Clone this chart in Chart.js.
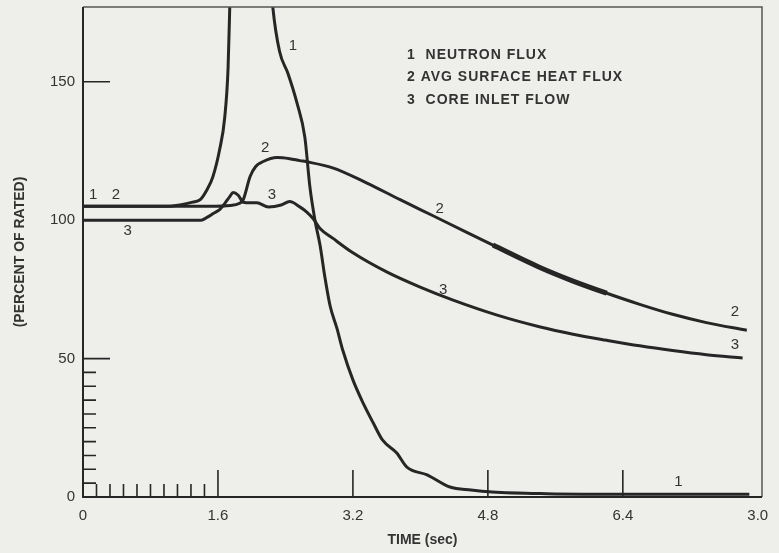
<!DOCTYPE html>
<html>
<head>
<meta charset="utf-8">
<script src="https://cdn.jsdelivr.net/npm/chart.js@4/dist/chart.umd.min.js"></script>
<style>
  html, body { margin: 0; padding: 0; background: #eeeeeb; }
  #wrap { width: 779px; height: 553px; }
</style>
</head>
<body>
<div id="wrap"><canvas id="chart" width="779" height="553"></canvas></div>
<script>
// Tick values and labels
const xTicks = [0, 1.6, 3.2, 4.8, 6.4, 8.0];
const xTickLabels = ["0", "1.6", "3.2", "4.8", "6.4", "3.0"];
const yTicks = [0, 50, 100, 150];
const yTickLabels = ["0", "50", "100", "150"];
const xMinorTicks = [0.16, 0.32, 0.48, 0.64, 0.8, 0.96, 1.12, 1.28, 1.44];
const xMajorTicks = [1.6, 3.2, 4.8, 6.4];
const yMinorTicks = [5, 10, 15, 20, 25, 30, 35, 40, 45];
const yMajorTicks = [50, 150];

// 1 Neutron flux
const fluxTime = [0, 0.5, 1.0, 1.15, 1.3, 1.39, 1.47, 1.54, 1.62, 1.68, 1.72, 1.74, 1.78, 1.9, 2.05, 2.18, 2.25, 2.33, 2.43, 2.54, 2.63, 2.69, 2.75, 2.81, 2.87, 2.93, 3.01, 3.08, 3.2, 3.32, 3.44, 3.55, 3.72, 3.84, 4.08, 4.35, 4.6, 4.85, 5.5, 6.5, 7.9];
const fluxValue = [105, 105, 105, 105.5, 106.5, 107.4, 111, 115.7, 125.5, 137, 155, 177, 215, 260, 250, 205, 177, 161, 153, 142, 130, 112, 100, 91, 79, 69, 61, 53, 42.3, 34, 26.8, 20.6, 15.9, 10.8, 8, 3.6, 2.5, 1.8, 1.2, 1, 1];

// 2 Avg surface heat flux
const heatTime = [0, 1.0, 1.5, 1.75, 1.85, 1.9, 1.98, 2.05, 2.13, 2.3, 2.45, 2.57, 2.65, 2.96, 3.36, 3.76, 4.15, 4.55, 4.86, 5.41, 5.81, 6.21, 6.6, 6.99, 7.39, 7.87];
const heatValue = [105, 105, 105, 105.3, 106, 107.4, 115.7, 119.5, 121.1, 122.6, 122.2, 121.5, 121.1, 118.9, 113.5, 107.4, 101.6, 95.6, 91, 83, 78, 73.6, 69.6, 66, 63, 60.2];

// 3 Core inlet flow
const flowTime = [0, 1.0, 1.4, 1.47, 1.55, 1.62, 1.68, 1.74, 1.78, 1.84, 1.9, 1.98, 2.06, 2.2, 2.35, 2.45, 2.57, 2.65, 2.73, 2.81, 2.96, 3.2, 3.6, 3.99, 4.38, 4.92, 5.41, 5.81, 6.21, 6.6, 6.99, 7.39, 7.82];
const flowValue = [100, 100, 100, 101, 102.5, 103.8, 106, 108.5, 110, 109, 106.5, 106.3, 106.3, 104.8, 105.5, 106.7, 104.8, 103, 100.5, 97, 93.5, 88.2, 81.3, 75.9, 71.2, 65.6, 61.5, 58.8, 56.6, 54.6, 52.9, 51.4, 50.2];

// Curve number labels [text, time, percent]
const curveLabels = [
  ["1", 2.49, 163], ["2", 2.16, 126], ["3", 2.24, 109],
  ["1", 0.12, 109], ["2", 0.39, 109], ["3", 0.53, 96],
  ["2", 4.23, 104], ["3", 4.27, 75], ["2", 7.73, 67],
  ["3", 7.73, 55], ["1", 7.06, 5.5]
];
const legendLines = ["1  NEUTRON FLUX", "2 AVG SURFACE HEAT FLUX", "3  CORE INLET FLOW"];

const ink = "#262626";
const font = "'Liberation Sans', Arial, sans-serif";

function toPoints(xs, ys) {
  return xs.map((x, i) => ({ x: x, y: ys[i] }));
}

const lineStyle = {
  borderColor: ink,
  borderWidth: 3,
  pointRadius: 0,
  fill: false,
  cubicInterpolationMode: "monotone",
};

const heatPoints = toPoints(heatTime, heatValue);

const series = [
  { label: "Neutron flux", data: toPoints(fluxTime, fluxValue), ...lineStyle },
  { label: "Avg surface heat flux", data: heatPoints, ...lineStyle },
  { label: "Core inlet flow", data: toPoints(flowTime, flowValue), ...lineStyle },
  // ragged, heavier stretch of trace 2 (same curve, only drawn between 4.86 and 6.21 s)
  {
    label: "Heat flux (heavy)",
    data: heatPoints,
    ...lineStyle,
    borderWidth: 5,
    segment: {
      borderColor: (ctx) =>
        ctx.p0.parsed.x >= 4.86 && ctx.p1.parsed.x <= 6.21 ? ink : "rgba(0,0,0,0)",
    },
  },
];

// Background, frame, inner ticks, annotations
const paperPlugin = {
  id: "paper",
  beforeDraw(chart) {
    const c = chart.ctx;
    c.save();
    c.fillStyle = "#eeeeeb";
    c.fillRect(0, 0, chart.width, chart.height);
    c.restore();
  },
  afterDatasetsDraw(chart) {
    const c = chart.ctx;
    const a = chart.chartArea;
    const xs = chart.scales.x;
    const ys = chart.scales.y;
    c.save();
    // frame
    c.strokeStyle = "#555";
    c.lineWidth = 1.5;
    c.beginPath();
    c.moveTo(a.left, a.top);
    c.lineTo(a.right, a.top);
    c.lineTo(a.right, a.bottom);
    c.stroke();
    c.strokeStyle = ink;
    c.lineWidth = 2;
    c.beginPath();
    c.moveTo(a.left, a.top);
    c.lineTo(a.left, a.bottom);
    c.lineTo(a.right, a.bottom);
    c.stroke();
    // inner ticks
    c.lineWidth = 1.6;
    c.beginPath();
    xMinorTicks.forEach((v) => {
      const px = xs.getPixelForValue(v);
      c.moveTo(px, a.bottom);
      c.lineTo(px, a.bottom - 13);
    });
    xMajorTicks.forEach((v) => {
      const px = xs.getPixelForValue(v);
      c.moveTo(px, a.bottom);
      c.lineTo(px, a.bottom - 27);
    });
    yMinorTicks.forEach((v) => {
      const py = ys.getPixelForValue(v);
      c.moveTo(a.left, py);
      c.lineTo(a.left + 13, py);
    });
    yMajorTicks.forEach((v) => {
      const py = ys.getPixelForValue(v);
      c.moveTo(a.left, py);
      c.lineTo(a.left + 27, py);
    });
    c.stroke();
    // curve numbers
    c.fillStyle = "#333";
    c.font = "15px " + font;
    c.textAlign = "center";
    c.textBaseline = "middle";
    curveLabels.forEach(([t, x, y]) => {
      c.fillText(t, xs.getPixelForValue(x), ys.getPixelForValue(y));
    });
    // legend text
    c.textAlign = "left";
    c.font = "bold 14px " + font;
    c.letterSpacing = "1px";
    legendLines.forEach((t, i) => {
      c.fillText(t, a.left + 324, a.top + 48 + i * 22.5);
    });
    c.restore();
  },
};

new Chart(document.getElementById("chart"), {
  type: "line",
  data: { datasets: series },
  options: {
    responsive: false,
    animation: false,
    layout: { padding: { top: 7, right: 17, left: 0, bottom: 0 } },
    plugins: {
      legend: { display: false },
      tooltip: { enabled: false },
    },
    scales: {
      x: {
        type: "linear",
        min: 0,
        max: 8.05,
        afterBuildTicks: (scale) => {
          scale.ticks = xTicks.map((v) => ({ value: v }));
        },
        afterFit: (scale) => {
          scale.height = 56;
          scale.paddingLeft = 0;
          scale.paddingRight = 0;
        },
        grid: { display: false, drawTicks: false },
        border: { display: false },
        ticks: {
          autoSkip: false,
          maxRotation: 0,
          padding: 10,
          color: "#333",
          font: { family: font, size: 15 },
          callback: (v) => {
            const i = xTicks.findIndex((t) => Math.abs(t - v) < 1e-6);
            return i >= 0 ? xTickLabels[i] : "";
          },
        },
        title: {
          display: true,
          text: "TIME (sec)",
          color: "#333",
          font: { family: font, size: 14, weight: "bold" },
          padding: { top: 2 },
        },
      },
      y: {
        min: 0,
        max: 177,
        afterBuildTicks: (scale) => {
          scale.ticks = yTicks.map((v) => ({ value: v }));
        },
        afterFit: (scale) => {
          scale.width = 83;
          scale.paddingTop = 0;
          scale.paddingBottom = 0;
        },
        grid: { display: false, drawTicks: false },
        border: { display: false },
        ticks: {
          autoSkip: false,
          padding: 8,
          color: "#333",
          font: { family: font, size: 15 },
          callback: (v) => {
            const i = yTicks.indexOf(v);
            return i >= 0 ? yTickLabels[i] : "";
          },
        },
        title: {
          display: true,
          text: "(PERCENT OF RATED)",
          color: "#333",
          font: { family: font, size: 14, weight: "bold" },
          padding: { top: 12, bottom: 4 },
        },
      },
    },
  },
  plugins: [paperPlugin],
});
</script>
</body>
</html>
